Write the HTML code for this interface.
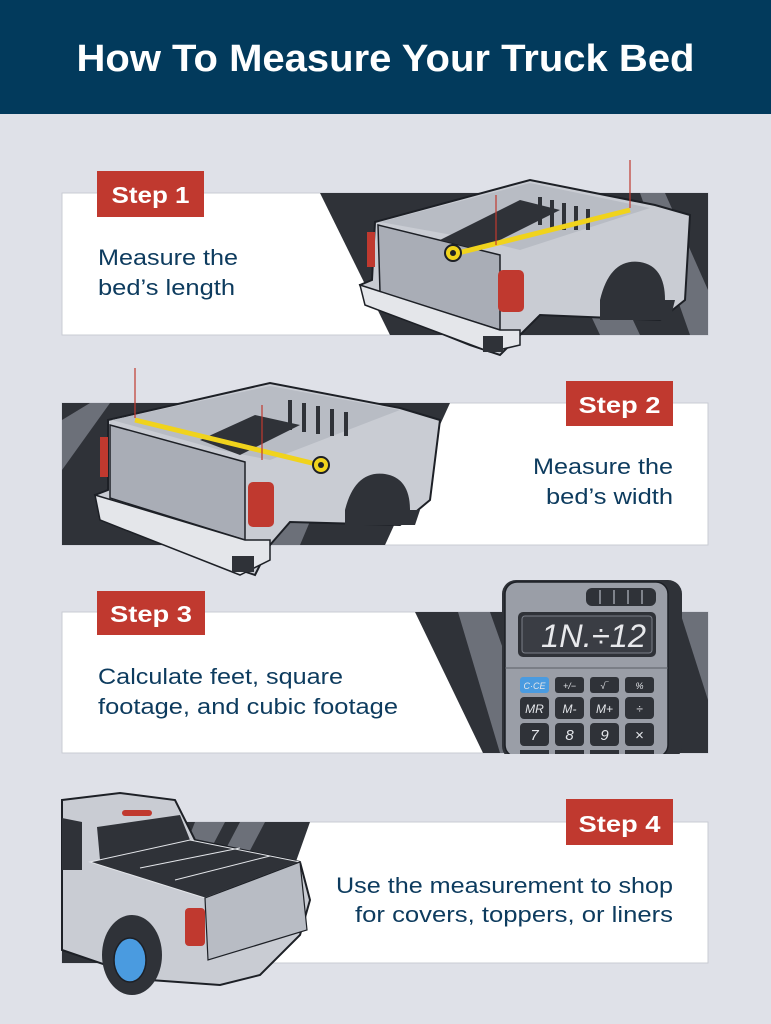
<!DOCTYPE html>
<html><head><meta charset="utf-8"><style>html,body{margin:0;padding:0;background:#dfe1e8}svg{display:block}</style></head><body>
<svg width="771" height="1024" viewBox="0 0 771 1024" xmlns="http://www.w3.org/2000/svg" font-family="Liberation Sans, sans-serif">
<rect width="771" height="1024" fill="#dfe1e8"/>
<rect width="771" height="114" fill="#023a5c"/>
<text x="385.5" y="71" text-anchor="middle" fill="#fff" font-size="38" font-weight="bold" textLength="618" lengthAdjust="spacingAndGlyphs">How To Measure Your Truck Bed</text>

<!-- Panel 1 -->
<rect x="62" y="193" width="646" height="142" fill="#fff" stroke="#c9ccd3"/>
<polygon points="320,193 708,193 708,335 390,335" fill="#2f3238"/>
<polygon points="640,193 665,193 708,290 708,335 690,335" fill="#6c7079"/>
<polygon points="560,250 600,250 640,335 600,335" fill="#6c7079"/>
<polygon points="375,222 530,180 655,205 690,215 685,300 660,320 540,315 520,335 500,355 470,345 370,305 360,285 372,280" fill="#c9ccd3" stroke="#1d2026" stroke-width="2"/>
<polygon points="380,222 530,183 650,208 520,250 480,240" fill="#b8bcc4"/>
<polygon points="378,225 500,255 500,330 380,292" fill="#a9adb6" stroke="#1d2026" stroke-width="1.5"/>
<polygon points="440,240 520,200 560,210 480,250" fill="#2f3238"/>
<g stroke="#2f3238" stroke-width="4"><line x1="540" y1="197" x2="540" y2="225"/><line x1="552" y1="200" x2="552" y2="228"/><line x1="564" y1="203" x2="564" y2="230"/><line x1="576" y1="206" x2="576" y2="230"/><line x1="588" y1="209" x2="588" y2="230"/></g>
<line x1="450" y1="255" x2="630" y2="210" stroke="#f0d31c" stroke-width="5"/>
<circle cx="453" cy="253" r="8" fill="#f0d31c" stroke="#1d2026" stroke-width="2"/>
<circle cx="453" cy="253" r="3" fill="#1d2026"/>
<rect x="498" y="270" width="26" height="42" rx="5" fill="#c0392f"/>
<rect x="367" y="232" width="8" height="35" fill="#c0392f"/>
<path d="M600 300 Q610 258 640 262 Q665 266 665 300 L675 300 L670 320 L600 320Z" fill="#2f3238"/>
<polygon points="360,285 500,330 520,330 520,345 490,352 365,305" fill="#e4e6ea" stroke="#1d2026" stroke-width="1.5"/>
<rect x="483" y="336" width="20" height="16" fill="#2f3238"/>
<line x1="630" y1="160" x2="630" y2="208" stroke="#c0392f" stroke-width="1.2"/>
<line x1="496" y1="195" x2="496" y2="245" stroke="#c0392f" stroke-width="1.2"/>
<rect x="97" y="171" width="107" height="46" fill="#c0392f"/>
<text x="150.5" y="203" text-anchor="middle" fill="#fff" font-size="23" font-weight="bold" textLength="78" lengthAdjust="spacingAndGlyphs">Step 1</text>
<text fill="#0d3b5e" font-size="22"><tspan x="98" y="265" textLength="140" lengthAdjust="spacingAndGlyphs">Measure the</tspan><tspan x="98" y="295" textLength="137" lengthAdjust="spacingAndGlyphs">bed’s length</tspan></text>

<!-- Panel 2 -->
<rect x="62" y="403" width="646" height="142" fill="#fff" stroke="#c9ccd3"/>
<polygon points="62,403 450,403 385,545 62,545" fill="#2f3238"/>
<polygon points="330,403 360,403 300,545 270,545" fill="#6c7079"/>
<polygon points="62,420 90,403 110,403 62,470" fill="#6c7079"/>
<polygon points="108,420 270,383 400,408 440,420 430,500 400,525 290,522 270,545 255,575 225,565 105,515 95,495 108,490" fill="#c9ccd3" stroke="#1d2026" stroke-width="2"/>
<polygon points="112,420 270,386 400,410 270,460 220,450" fill="#b8bcc4"/>
<polygon points="110,425 245,462 245,540 110,498" fill="#a9adb6" stroke="#1d2026" stroke-width="1.5"/>
<polygon points="200,440 255,415 300,425 240,455" fill="#2f3238"/>
<g stroke="#2f3238" stroke-width="4"><line x1="290" y1="400" x2="290" y2="430"/><line x1="304" y1="403" x2="304" y2="432"/><line x1="318" y1="406" x2="318" y2="434"/><line x1="332" y1="409" x2="332" y2="436"/><line x1="346" y1="412" x2="346" y2="436"/></g>
<line x1="135" y1="420" x2="320" y2="465" stroke="#f0d31c" stroke-width="5"/>
<circle cx="321" cy="465" r="8" fill="#f0d31c" stroke="#1d2026" stroke-width="2"/>
<circle cx="321" cy="465" r="3" fill="#1d2026"/>
<rect x="248" y="482" width="26" height="45" rx="5" fill="#c0392f"/>
<rect x="100" y="437" width="8" height="40" fill="#c0392f"/>
<path d="M345 510 Q355 470 385 474 Q410 478 410 510 L420 510 L415 525 L345 525Z" fill="#2f3238"/>
<polygon points="95,495 245,540 270,540 270,560 240,575 100,520" fill="#e4e6ea" stroke="#1d2026" stroke-width="1.5"/>
<rect x="232" y="556" width="22" height="16" fill="#2f3238"/>
<line x1="135" y1="368" x2="135" y2="418" stroke="#c0392f" stroke-width="1.2"/>
<line x1="262" y1="405" x2="262" y2="460" stroke="#c0392f" stroke-width="1.2"/>
<rect x="566" y="381" width="107" height="45" fill="#c0392f"/>
<text x="619.5" y="413" text-anchor="middle" fill="#fff" font-size="23" font-weight="bold" textLength="82" lengthAdjust="spacingAndGlyphs">Step 2</text>
<text fill="#0d3b5e" font-size="22"><tspan x="533" y="474" textLength="140" lengthAdjust="spacingAndGlyphs">Measure the</tspan><tspan x="546" y="504" textLength="127" lengthAdjust="spacingAndGlyphs">bed’s width</tspan></text>

<!-- Panel 3 -->
<rect x="62" y="612" width="646" height="141" fill="#fff" stroke="#c9ccd3"/>
<polygon points="415,612 708,612 708,753 483,753" fill="#2f3238"/>
<polygon points="458,612 490,612 540,753 500,753" fill="#6c7079"/>
<polygon points="680,612 708,612 708,700" fill="#6c7079"/>
<rect x="502" y="580" width="180" height="180" rx="14" fill="#2f3238"/>
<rect x="505" y="582" width="163" height="175" rx="12" fill="#9a9ea7" stroke="#1d2026" stroke-width="1.5"/>
<rect x="586" y="588" width="70" height="18" rx="6" fill="#2f3238"/>
<g stroke="#9a9ea7" stroke-width="1.5"><line x1="600" y1="590" x2="600" y2="604"/><line x1="614" y1="590" x2="614" y2="604"/><line x1="628" y1="590" x2="628" y2="604"/><line x1="642" y1="590" x2="642" y2="604"/></g>
<rect x="518" y="612" width="138" height="45" rx="5" fill="#2f3238"/>
<rect x="522" y="616" width="130" height="37" rx="3" fill="#3a3d44" stroke="#7b7f88"/>
<text x="646" y="647" text-anchor="end" fill="#e8e9ec" font-size="32" font-style="italic" textLength="105" lengthAdjust="spacingAndGlyphs">1N.÷12</text>
<line x1="505" y1="668" x2="668" y2="668" stroke="#5a5e66"/>
<g font-size="12" font-style="italic" fill="#e4e6ea" text-anchor="middle">
<rect x="520" y="677" width="29" height="16" rx="3" fill="#4a9be0"/><text x="534.5" y="689" font-size="9">C·CE</text>
<rect x="555" y="677" width="29" height="16" rx="3" fill="#2f3238"/><text x="569.5" y="689" font-size="9">+/−</text>
<rect x="590" y="677" width="29" height="16" rx="3" fill="#2f3238"/><text x="604.5" y="689" font-size="9">√‾</text>
<rect x="625" y="677" width="29" height="16" rx="3" fill="#2f3238"/><text x="639.5" y="689" font-size="9">%</text>
<rect x="520" y="697" width="29" height="22" rx="4" fill="#2f3238"/><text x="534.5" y="713">MR</text>
<rect x="555" y="697" width="29" height="22" rx="4" fill="#2f3238"/><text x="569.5" y="713">M-</text>
<rect x="590" y="697" width="29" height="22" rx="4" fill="#2f3238"/><text x="604.5" y="713">M+</text>
<rect x="625" y="697" width="29" height="22" rx="4" fill="#2f3238"/><text x="639.5" y="713">÷</text>
<rect x="520" y="723" width="29" height="23" rx="4" fill="#2f3238"/><text x="534.5" y="740" font-size="15">7</text>
<rect x="555" y="723" width="29" height="23" rx="4" fill="#2f3238"/><text x="569.5" y="740" font-size="15">8</text>
<rect x="590" y="723" width="29" height="23" rx="4" fill="#2f3238"/><text x="604.5" y="740" font-size="15">9</text>
<rect x="625" y="723" width="29" height="23" rx="4" fill="#2f3238"/><text x="639.5" y="740" font-size="15" font-style="normal">×</text>
<rect x="520" y="750" width="29" height="8" fill="#2f3238"/><rect x="555" y="750" width="29" height="8" fill="#2f3238"/><rect x="590" y="750" width="29" height="8" fill="#2f3238"/><rect x="625" y="750" width="29" height="8" fill="#2f3238"/>
</g>
<rect x="0" y="754" width="771" height="10" fill="#dfe1e8"/>
<rect x="97" y="591" width="108" height="44" fill="#c0392f"/>
<text x="151" y="622" text-anchor="middle" fill="#fff" font-size="23" font-weight="bold" textLength="82" lengthAdjust="spacingAndGlyphs">Step 3</text>
<text fill="#0d3b5e" font-size="22"><tspan x="98" y="684" textLength="245" lengthAdjust="spacingAndGlyphs">Calculate feet, square</tspan><tspan x="98" y="714" textLength="300" lengthAdjust="spacingAndGlyphs">footage, and cubic footage</tspan></text>

<!-- Panel 4 -->
<rect x="62" y="822" width="646" height="141" fill="#fff" stroke="#c9ccd3"/>
<polygon points="62,822 310,822 260,963 62,963" fill="#2f3238"/>
<polygon points="195,822 225,822 205,860 180,860" fill="#6c7079"/>
<polygon points="240,822 265,822 245,860 220,860" fill="#6c7079"/>
<polygon points="62,800 120,793 175,800 195,840 300,862 310,900 300,935 260,975 220,985 150,980 62,950" fill="#c9ccd3" stroke="#1d2026" stroke-width="2"/>
<polygon points="97,827 180,815 190,840 100,860" fill="#2f3238"/>
<polygon points="62,818 82,822 82,870 62,870" fill="#2f3238"/>
<polygon points="90,862 190,840 300,862 205,898" fill="#2f3238" stroke="#e4e6ea" stroke-width="1"/>
<line x1="140" y1="868" x2="240" y2="848" stroke="#e4e6ea"/><line x1="175" y1="880" x2="270" y2="856" stroke="#e4e6ea"/>
<rect x="122" y="810" width="30" height="6" rx="3" fill="#c0392f"/>
<rect x="185" y="908" width="20" height="38" rx="4" fill="#c0392f"/>
<polygon points="205,898 300,862 307,930 208,960" fill="#b8bcc4" stroke="#1d2026" stroke-width="1.2"/>
<ellipse cx="132" cy="955" rx="30" ry="40" fill="#2f3238"/>
<ellipse cx="130" cy="960" rx="16" ry="22" fill="#4a9be0" stroke="#1d2026" stroke-width="1.5"/>
<rect x="566" y="799" width="107" height="46" fill="#c0392f"/>
<text x="619.5" y="832" text-anchor="middle" fill="#fff" font-size="23" font-weight="bold" textLength="82" lengthAdjust="spacingAndGlyphs">Step 4</text>
<text fill="#0d3b5e" font-size="22"><tspan x="336" y="893" textLength="337" lengthAdjust="spacingAndGlyphs">Use the measurement to shop</tspan><tspan x="355" y="922" textLength="318" lengthAdjust="spacingAndGlyphs">for covers, toppers, or liners</tspan></text>
</svg>
</body></html>
